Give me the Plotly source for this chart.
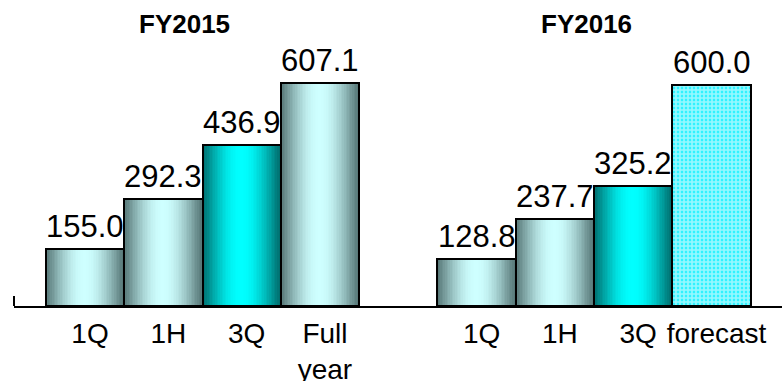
import math
import plotly.graph_objects as go

# Net sales by period (two fiscal years)
labels_fy2015 = ["1Q", "1H", "3Q", "Full<br>year"]
values_fy2015 = [155.0, 292.3, 436.9, 607.1]
fills_fy2015 = ["silver", "silver", "aqua", "silver"]

labels_fy2016 = ["1Q", "1H", "3Q", "forecast"]
values_fy2016 = [128.8, 237.7, 325.2, 600.0]
fills_fy2016 = ["silver", "silver", "aqua", "dots"]

group_titles = ["FY2015", "FY2016"]

FONT = "Arial, 'Liberation Sans', sans-serif"

# category slots: FY2016 starts after one empty slot
x_2015 = list(range(len(values_fy2015)))
x_2016 = [len(values_fy2015) + 1 + i for i in range(len(values_fy2016))]
xs = x_2015 + x_2016
ys = values_fy2015 + values_fy2016
fills = fills_fy2015 + fills_fy2016
ticktext = labels_fy2015 + labels_fy2016

# horizontal metallic gradients: (edge colour, centre colour)
GRADIENTS = {
    "silver": ((86, 118, 118), (206, 255, 255)),
    "aqua": ((0, 108, 108), (0, 255, 255)),
}


def shade(style, t):
    edge, mid = GRADIENTS[style]
    f = math.sin(math.pi * t) ** 1.1
    r, g, b = (round(e + (m - e) * f) for e, m in zip(edge, mid))
    return f"rgb({r},{g},{b})"


fig = go.Figure()

# gradient fill drawn as thin vertical slices of each bar
N = 48
grad_idx = [i for i, s in enumerate(fills) if s in GRADIENTS]
gx = [xs[i] for i in grad_idx]
gy = [ys[i] for i in grad_idx]
for k in range(N):
    t = (k + 0.5) / N
    fig.add_trace(go.Bar(
        x=gx, y=gy,
        offset=-0.5 + k / N, width=1.0 / N * 1.15,
        marker=dict(color=[shade(fills[i], t) for i in grad_idx], line=dict(width=0)),
        hoverinfo="skip", showlegend=False,
    ))

# dotted fill for the forecast bar
dot_idx = [i for i, s in enumerate(fills) if s == "dots"]
fig.add_trace(go.Bar(
    x=[xs[i] for i in dot_idx], y=[ys[i] for i in dot_idx],
    width=1.0,
    marker=dict(color="#30f2ff", line=dict(width=0),
                pattern=dict(shape="+", fgcolor="white", bgcolor="#30f2ff",
                             size=4, solidity=0.65)),
    hoverinfo="skip", showlegend=False,
))

# outlines
fig.add_trace(go.Bar(
    x=xs, y=ys, width=1.0,
    marker=dict(color="rgba(0,0,0,0)", line=dict(color="black", width=2)),
    hoverinfo="skip", showlegend=False,
))

# value labels above each bar
for xv, yv in zip(xs, ys):
    fig.add_annotation(
        text=f"{yv:.1f}", x=xv, y=yv, xref="x", yref="y",
        xanchor="center", yanchor="bottom", yshift=3, showarrow=False,
        font=dict(family=FONT, size=31, color="black"),
    )

# group headings
for title, xpos in zip(group_titles, [0.2223, 0.7457]):
    fig.add_annotation(
        text=f"<b>{title}</b>", x=xpos, y=0.921, xref="paper", yref="paper",
        xanchor="center", yanchor="middle", showarrow=False,
        font=dict(family=FONT, size=26, color="black"),
    )

# short stub at the left end of the baseline
fig.add_shape(type="line", xref="paper", yref="paper",
              x0=0, x1=0, y0=0, y1=10 / 306,
              line=dict(color="black", width=2))

fig.update_layout(
    width=782, height=381,
    margin=dict(l=14, r=0, t=0, b=75, autoexpand=False),
    barmode="overlay", bargap=0,
    paper_bgcolor="white", plot_bgcolor="white",
    showlegend=False,
    xaxis=dict(
        range=[-0.907, 8.9], tickvals=xs, ticktext=ticktext,
        showline=True, linecolor="black", linewidth=2,
        showgrid=False, zeroline=False, automargin=False,
        ticks="outside", ticklen=1, tickcolor="rgba(0,0,0,0)",
        ticklabelshift=5,
        tickfont=dict(family=FONT, size=28, color="black"),
    ),
    yaxis=dict(range=[0, 832], visible=False, showgrid=False, zeroline=False,
               automargin=False),
)

fig.write_html("out.html")
